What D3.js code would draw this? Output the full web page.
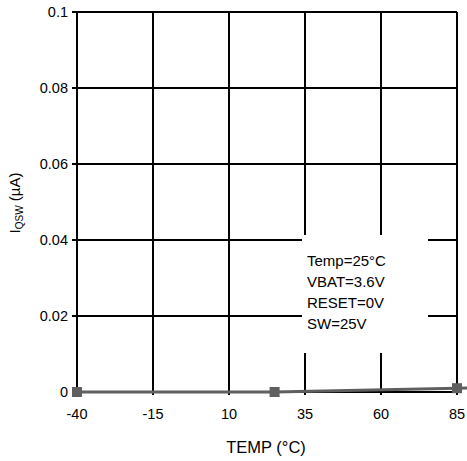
<!DOCTYPE html>
<html><head><meta charset="utf-8">
<script src="https://cdn.jsdelivr.net/npm/d3@7"></script>
<style>body{margin:0;background:#fff}svg{display:block;font-family:"Liberation Sans",Arial,sans-serif}</style>
</head><body>
<script>
const temps = [-40, 25, 85, 125];
const iqsw = [0, 0, 0.001, 0.0017];
const xTicks = [-40, -15, 10, 35, 60, 85];
const yTicks = [0, 0.02, 0.04, 0.06, 0.08, 0.1];
const yTickLabels = ["0", "0.02", "0.04", "0.06", "0.08", "0.1"];
const notes = ["Temp=25°C", "VBAT=3.6V", "RESET=0V", "SW=25V"];

const W = 467, H = 461;
const svg = d3.select("body").append("svg").attr("width", W).attr("height", H);
const x = d3.scaleLinear().domain([-40, 85]).range([77, 457]);
const y = d3.scaleLinear().domain([0, 0.1]).range([392, 12]);

const g = svg.append("g");
// grid
g.selectAll(".vg").data(xTicks).join("line")
  .attr("x1", d => x(d)).attr("x2", d => x(d)).attr("y1", y(0.1)).attr("y2", y(0) + 3)
  .attr("stroke", "#000").attr("stroke-width", 2);
g.selectAll(".hg").data(yTicks).join("line")
  .attr("x1", x(-40) - 5).attr("x2", x(85)).attr("y1", d => y(d)).attr("y2", d => y(d))
  .attr("stroke", "#000").attr("stroke-width", 2);

// annotation box
g.append("rect").attr("x", 302).attr("y", 235).attr("width", 126).attr("height", 118).attr("fill", "#fff");
g.selectAll(".note").data(notes).join("text")
  .attr("x", 307).attr("y", (d, i) => 266 + i * 21)
  .attr("font-size", 15).attr("fill", "#000").text(d => d);

// tick labels
g.selectAll(".yl").data(yTicks).join("text")
  .attr("x", 68).attr("y", (d) => y(d) + 5).attr("text-anchor", "end")
  .attr("font-size", 14.5).text((d, i) => yTickLabels[i]);
g.selectAll(".xl").data(xTicks).join("text")
  .attr("x", d => x(d)).attr("y", 419).attr("text-anchor", "middle")
  .attr("font-size", 14.5).text(d => d);

// titles
svg.append("text").attr("x", 266).attr("y", 453).attr("text-anchor", "middle")
  .attr("font-size", 16.5).text("TEMP (°C)");
const yl = svg.append("text").attr("transform", "translate(20,203) rotate(-90)")
  .attr("text-anchor", "middle").attr("font-size", 15);
yl.append("tspan").text("I");
yl.append("tspan").attr("font-size", 10).attr("dy", 3).text("QSW");
yl.append("tspan").attr("dy", -3).text(" (µA)");

// series
const pts = temps.map((t, i) => [t, iqsw[i]]);
svg.append("path").datum(pts)
  .attr("d", d3.line().x(d => x(d[0])).y(d => y(d[1])))
  .attr("fill", "none").attr("stroke", "#5f5f5f").attr("stroke-width", 3);
svg.selectAll(".mk").data(pts).join("rect")
  .attr("x", d => x(d[0]) - 5).attr("y", d => y(d[1]) - 5)
  .attr("width", 10).attr("height", 10).attr("fill", "#5f5f5f");
</script>
</body></html>
